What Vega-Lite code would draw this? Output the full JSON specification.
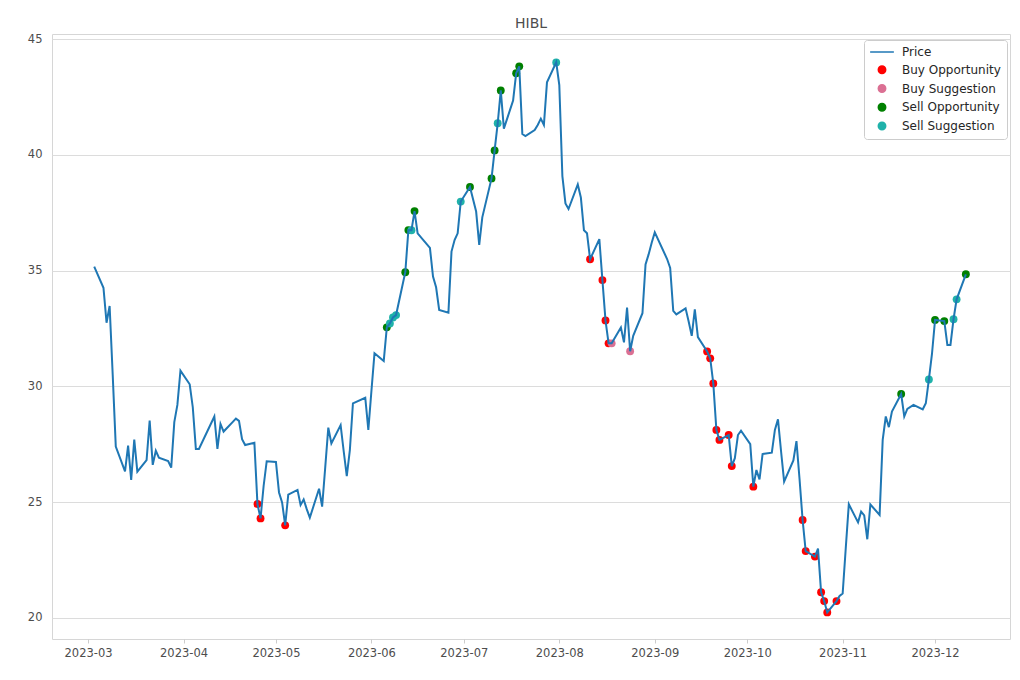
{
  "$schema": "https://vega.github.io/schema/vega-lite/v6.json",
  "autosize": {"type": "none"},
  "padding": {"left": 52, "top": 34, "right": 10, "bottom": 41},
  "width": 958,
  "height": 605,
  "background": "white",
  "config": {
    "font": "DejaVu Sans",
    "view": {"stroke": "#d6d6d6", "strokeWidth": 1}
  },
  "title": {"text": "HIBL", "font": "DejaVu Sans", "fontSize": 14, "fontWeight": "normal", "color": "#4d4d4d", "anchor": "middle", "offset": 2},
  "data": {"values": [
    {"d": "2023-03-03", "p": 35.17},
    {"d": "2023-03-06", "p": 34.26},
    {"d": "2023-03-07", "p": 32.75},
    {"d": "2023-03-08", "p": 33.47},
    {"d": "2023-03-09", "p": 30.5},
    {"d": "2023-03-10", "p": 27.40},
    {"d": "2023-03-13", "p": 26.33},
    {"d": "2023-03-14", "p": 27.44},
    {"d": "2023-03-15", "p": 25.96},
    {"d": "2023-03-16", "p": 27.70},
    {"d": "2023-03-17", "p": 26.32},
    {"d": "2023-03-20", "p": 26.82},
    {"d": "2023-03-21", "p": 28.52},
    {"d": "2023-03-22", "p": 26.61},
    {"d": "2023-03-23", "p": 27.22},
    {"d": "2023-03-24", "p": 26.92},
    {"d": "2023-03-27", "p": 26.78},
    {"d": "2023-03-28", "p": 26.49},
    {"d": "2023-03-29", "p": 28.46},
    {"d": "2023-03-30", "p": 29.20},
    {"d": "2023-03-31", "p": 30.68},
    {"d": "2023-04-03", "p": 30.09},
    {"d": "2023-04-04", "p": 29.10},
    {"d": "2023-04-05", "p": 27.30},
    {"d": "2023-04-06", "p": 27.30},
    {"d": "2023-04-10", "p": 28.42},
    {"d": "2023-04-11", "p": 28.70},
    {"d": "2023-04-12", "p": 27.30},
    {"d": "2023-04-13", "p": 28.38},
    {"d": "2023-04-14", "p": 28.05},
    {"d": "2023-04-17", "p": 28.47},
    {"d": "2023-04-18", "p": 28.61},
    {"d": "2023-04-19", "p": 28.51},
    {"d": "2023-04-20", "p": 27.72},
    {"d": "2023-04-21", "p": 27.47},
    {"d": "2023-04-24", "p": 27.57},
    {"d": "2023-04-25", "p": 24.92, "s": "Buy Opportunity"},
    {"d": "2023-04-26", "p": 24.30, "s": "Buy Opportunity"},
    {"d": "2023-04-27", "p": 25.70},
    {"d": "2023-04-28", "p": 26.77},
    {"d": "2023-05-01", "p": 26.74},
    {"d": "2023-05-02", "p": 25.42},
    {"d": "2023-05-03", "p": 24.99},
    {"d": "2023-05-04", "p": 24.00, "s": "Buy Opportunity"},
    {"d": "2023-05-05", "p": 25.33},
    {"d": "2023-05-08", "p": 25.53},
    {"d": "2023-05-09", "p": 24.88},
    {"d": "2023-05-10", "p": 25.12},
    {"d": "2023-05-11", "p": 24.70},
    {"d": "2023-05-12", "p": 24.33},
    {"d": "2023-05-15", "p": 25.58},
    {"d": "2023-05-16", "p": 24.81},
    {"d": "2023-05-17", "p": 26.50},
    {"d": "2023-05-18", "p": 28.22},
    {"d": "2023-05-19", "p": 27.54},
    {"d": "2023-05-22", "p": 28.33},
    {"d": "2023-05-23", "p": 27.20},
    {"d": "2023-05-24", "p": 26.13},
    {"d": "2023-05-25", "p": 27.25},
    {"d": "2023-05-26", "p": 29.27},
    {"d": "2023-05-30", "p": 29.51},
    {"d": "2023-05-31", "p": 28.12},
    {"d": "2023-06-01", "p": 29.80},
    {"d": "2023-06-02", "p": 31.43},
    {"d": "2023-06-05", "p": 31.10},
    {"d": "2023-06-06", "p": 32.55, "s": "Sell Opportunity"},
    {"d": "2023-06-07", "p": 32.72, "s": "Sell Suggestion"},
    {"d": "2023-06-08", "p": 32.98, "s": "Sell Suggestion"},
    {"d": "2023-06-09", "p": 33.08, "s": "Sell Suggestion"},
    {"d": "2023-06-12", "p": 34.93, "s": "Sell Opportunity"},
    {"d": "2023-06-13", "p": 36.75, "s": "Sell Opportunity"},
    {"d": "2023-06-14", "p": 36.74, "s": "Sell Suggestion"},
    {"d": "2023-06-15", "p": 37.57, "s": "Sell Opportunity"},
    {"d": "2023-06-16", "p": 36.61},
    {"d": "2023-06-20", "p": 35.98},
    {"d": "2023-06-21", "p": 34.74},
    {"d": "2023-06-22", "p": 34.28},
    {"d": "2023-06-23", "p": 33.30},
    {"d": "2023-06-26", "p": 33.18},
    {"d": "2023-06-27", "p": 35.82},
    {"d": "2023-06-28", "p": 36.32},
    {"d": "2023-06-29", "p": 36.61},
    {"d": "2023-06-30", "p": 37.98, "s": "Sell Suggestion"},
    {"d": "2023-07-03", "p": 38.61, "s": "Sell Opportunity"},
    {"d": "2023-07-05", "p": 37.55},
    {"d": "2023-07-06", "p": 36.11},
    {"d": "2023-07-07", "p": 37.30},
    {"d": "2023-07-10", "p": 38.98, "s": "Sell Opportunity"},
    {"d": "2023-07-11", "p": 40.19, "s": "Sell Opportunity"},
    {"d": "2023-07-12", "p": 41.36, "s": "Sell Suggestion"},
    {"d": "2023-07-13", "p": 42.78, "s": "Sell Opportunity"},
    {"d": "2023-07-14", "p": 41.13},
    {"d": "2023-07-17", "p": 42.34},
    {"d": "2023-07-18", "p": 43.52, "s": "Sell Opportunity"},
    {"d": "2023-07-19", "p": 43.82, "s": "Sell Opportunity"},
    {"d": "2023-07-20", "p": 40.90},
    {"d": "2023-07-21", "p": 40.81},
    {"d": "2023-07-24", "p": 41.07},
    {"d": "2023-07-25", "p": 41.29},
    {"d": "2023-07-26", "p": 41.56},
    {"d": "2023-07-27", "p": 41.29},
    {"d": "2023-07-28", "p": 43.13},
    {"d": "2023-07-31", "p": 43.99, "s": "Sell Suggestion"},
    {"d": "2023-08-01", "p": 43.01},
    {"d": "2023-08-02", "p": 39.08},
    {"d": "2023-08-03", "p": 37.90},
    {"d": "2023-08-04", "p": 37.66},
    {"d": "2023-08-07", "p": 38.72},
    {"d": "2023-08-08", "p": 38.16},
    {"d": "2023-08-09", "p": 36.74},
    {"d": "2023-08-10", "p": 36.61},
    {"d": "2023-08-11", "p": 35.49, "s": "Buy Opportunity"},
    {"d": "2023-08-14", "p": 36.36},
    {"d": "2023-08-15", "p": 34.59, "s": "Buy Opportunity"},
    {"d": "2023-08-16", "p": 32.85, "s": "Buy Opportunity"},
    {"d": "2023-08-17", "p": 31.86, "s": "Buy Opportunity"},
    {"d": "2023-08-18", "p": 31.86, "s": "Buy Suggestion"},
    {"d": "2023-08-21", "p": 32.54},
    {"d": "2023-08-22", "p": 31.90},
    {"d": "2023-08-23", "p": 33.40},
    {"d": "2023-08-24", "p": 31.52, "s": "Buy Suggestion"},
    {"d": "2023-08-25", "p": 32.18},
    {"d": "2023-08-28", "p": 33.16},
    {"d": "2023-08-29", "p": 35.27},
    {"d": "2023-08-30", "p": 35.70},
    {"d": "2023-08-31", "p": 36.20},
    {"d": "2023-09-01", "p": 36.65},
    {"d": "2023-09-05", "p": 35.50},
    {"d": "2023-09-06", "p": 35.11},
    {"d": "2023-09-07", "p": 33.26},
    {"d": "2023-09-08", "p": 33.11},
    {"d": "2023-09-11", "p": 33.37},
    {"d": "2023-09-12", "p": 32.80},
    {"d": "2023-09-13", "p": 32.18},
    {"d": "2023-09-14", "p": 33.33},
    {"d": "2023-09-15", "p": 32.13},
    {"d": "2023-09-18", "p": 31.51, "s": "Buy Opportunity"},
    {"d": "2023-09-19", "p": 31.21, "s": "Buy Opportunity"},
    {"d": "2023-09-20", "p": 30.13, "s": "Buy Opportunity"},
    {"d": "2023-09-21", "p": 28.12, "s": "Buy Opportunity"},
    {"d": "2023-09-22", "p": 27.69, "s": "Buy Opportunity"},
    {"d": "2023-09-25", "p": 27.90, "s": "Buy Opportunity"},
    {"d": "2023-09-26", "p": 26.56, "s": "Buy Opportunity"},
    {"d": "2023-09-27", "p": 26.90},
    {"d": "2023-09-28", "p": 27.90},
    {"d": "2023-09-29", "p": 28.09},
    {"d": "2023-10-02", "p": 27.51},
    {"d": "2023-10-03", "p": 25.67, "s": "Buy Opportunity"},
    {"d": "2023-10-04", "p": 26.39},
    {"d": "2023-10-05", "p": 25.98},
    {"d": "2023-10-06", "p": 27.08},
    {"d": "2023-10-09", "p": 27.14},
    {"d": "2023-10-10", "p": 28.12},
    {"d": "2023-10-11", "p": 28.58},
    {"d": "2023-10-12", "p": 27.20},
    {"d": "2023-10-13", "p": 25.89},
    {"d": "2023-10-16", "p": 26.80},
    {"d": "2023-10-17", "p": 27.64},
    {"d": "2023-10-18", "p": 26.00},
    {"d": "2023-10-19", "p": 24.23, "s": "Buy Opportunity"},
    {"d": "2023-10-20", "p": 22.89, "s": "Buy Opportunity"},
    {"d": "2023-10-23", "p": 22.65, "s": "Buy Opportunity"},
    {"d": "2023-10-24", "p": 23.00},
    {"d": "2023-10-25", "p": 21.11, "s": "Buy Opportunity"},
    {"d": "2023-10-26", "p": 20.73, "s": "Buy Opportunity"},
    {"d": "2023-10-27", "p": 20.24, "s": "Buy Opportunity"},
    {"d": "2023-10-30", "p": 20.73, "s": "Buy Opportunity"},
    {"d": "2023-10-31", "p": 20.95},
    {"d": "2023-11-01", "p": 21.06},
    {"d": "2023-11-02", "p": 23.00},
    {"d": "2023-11-03", "p": 24.91},
    {"d": "2023-11-06", "p": 24.13},
    {"d": "2023-11-07", "p": 24.59},
    {"d": "2023-11-08", "p": 24.43},
    {"d": "2023-11-09", "p": 23.40},
    {"d": "2023-11-10", "p": 24.90},
    {"d": "2023-11-13", "p": 24.45},
    {"d": "2023-11-14", "p": 27.69},
    {"d": "2023-11-15", "p": 28.70},
    {"d": "2023-11-16", "p": 28.24},
    {"d": "2023-11-17", "p": 28.91},
    {"d": "2023-11-20", "p": 29.67, "s": "Sell Opportunity"},
    {"d": "2023-11-21", "p": 28.70},
    {"d": "2023-11-22", "p": 29.03},
    {"d": "2023-11-24", "p": 29.20},
    {"d": "2023-11-27", "p": 29.01},
    {"d": "2023-11-28", "p": 29.27},
    {"d": "2023-11-29", "p": 30.30, "s": "Sell Suggestion"},
    {"d": "2023-11-30", "p": 31.40},
    {"d": "2023-12-01", "p": 32.87, "s": "Sell Opportunity"},
    {"d": "2023-12-04", "p": 32.82, "s": "Sell Opportunity"},
    {"d": "2023-12-05", "p": 31.79},
    {"d": "2023-12-06", "p": 31.79},
    {"d": "2023-12-07", "p": 32.90, "s": "Sell Suggestion"},
    {"d": "2023-12-08", "p": 33.76, "s": "Sell Suggestion"},
    {"d": "2023-12-11", "p": 34.84, "s": "Sell Opportunity"}
  ]},
  "encoding": {
    "x": {
      "field": "d", "type": "temporal",
      "scale": {"type": "utc", "domain": [{"year": 2023, "month": 2, "date": 17, "hours": 7, "utc": true}, {"year": 2023, "month": 12, "date": 25, "hours": 8, "utc": true}], "nice": false},
      "axis": {
        "title": null, "format": "%Y-%m",
        "values": [
          {"year": 2023, "month": 3, "date": 1, "utc": true},
          {"year": 2023, "month": 4, "date": 1, "utc": true},
          {"year": 2023, "month": 5, "date": 1, "utc": true},
          {"year": 2023, "month": 6, "date": 1, "utc": true},
          {"year": 2023, "month": 7, "date": 1, "utc": true},
          {"year": 2023, "month": 8, "date": 1, "utc": true},
          {"year": 2023, "month": 9, "date": 1, "utc": true},
          {"year": 2023, "month": 10, "date": 1, "utc": true},
          {"year": 2023, "month": 11, "date": 1, "utc": true},
          {"year": 2023, "month": 12, "date": 1, "utc": true}
        ],
        "grid": false, "domain": false, "ticks": true, "tickSize": 4, "tickColor": "#cccccc",
        "labelFont": "DejaVu Sans", "labelFontSize": 11.5, "labelColor": "#4d4d4d", "labelPadding": 4, "labelFlush": false
      }
    },
    "y": {
      "field": "p", "type": "quantitative",
      "scale": {"domain": [19.093, 45.216], "nice": false, "zero": false},
      "axis": {
        "title": null, "values": [20, 25, 30, 35, 40, 45], "grid": true, "gridColor": "#dcdcdc", "gridWidth": 1,
        "domain": false, "ticks": false, "labelPadding": 10,
        "labelFont": "DejaVu Sans", "labelFontSize": 11.5, "labelColor": "#4d4d4d"
      }
    }
  },
  "layer": [
    {
      "transform": [{"filter": "isValid(datum.s)"}],
      "mark": {"type": "point", "filled": true, "opacity": 1, "size": 62},
      "encoding": {
        "order": {"field": "s", "sort": "ascending"},
        "color": {
          "field": "s", "type": "nominal",
          "scale": {"domain": ["Price", "Buy Opportunity", "Buy Suggestion", "Sell Opportunity", "Sell Suggestion"], "range": ["#1f77b4", "#ff0000", "#db7093", "#008000", "#20b2aa"]},
          "legend": {
            "title": null, "orient": "none", "legendX": 812, "legendY": 6,
            "labelFont": "DejaVu Sans", "labelFontSize": 12, "labelColor": "#262626",
            "symbolSize": 55, "symbolOpacity": 1, "symbolOffset": 6, "labelOffset": 14,
            "padding": 6, "rowPadding": 4.75,
            "fillColor": "rgba(255,255,255,0.8)", "strokeColor": "#cccccc", "cornerRadius": 3,
            "encode": {"symbols": {"update": {
              "stroke": {"scale": "color", "field": "value"},
              "strokeWidth": {"value": 1.5}
            }}}
          }
        },
        "shape": {
          "field": "s", "type": "nominal",
          "scale": {"domain": ["Price", "Buy Opportunity", "Buy Suggestion", "Sell Opportunity", "Sell Suggestion"], "range": ["M-3.2,0H3.2", "circle", "circle", "circle", "circle"]},
          "legend": {"title": null, "orient": "none", "legendX": 812, "legendY": 6}
        }
      }
    },
    {
      "mark": {"type": "line", "color": "#1f77b4", "strokeWidth": 2},
      "encoding": {}
    }
  ]
}
